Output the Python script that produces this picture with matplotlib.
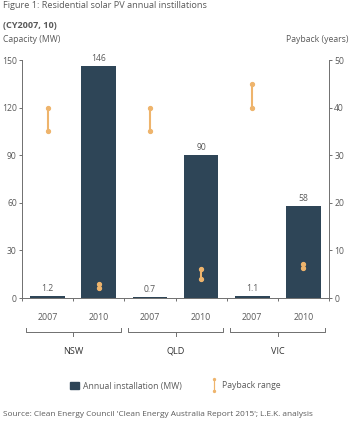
import matplotlib
matplotlib.use("Agg")
import matplotlib.pyplot as plt
from matplotlib.patches import Patch
from matplotlib.lines import Line2D
from matplotlib.path import Path
import numpy as np

# data
states = ["NSW", "QLD", "VIC"]
years = ["2007", "2010"]
capacity = [1.2, 146, 0.7, 90, 1.1, 58]          # MW
capacity_labels = ["1.2", "146", "0.7", "90", "1.1", "58"]
payback_low = [35, 2, 35, 4, 40, 6.2]              # years
payback_high = [40, 3, 40, 6, 45, 7.2]

BAR = "#2e4557"
ORANGE = "#eeb46c"
GREY = "#5a5a5a"
AXC = "#6f6f6f"

plt.rcParams["font.family"] = ["Open Sans", "DejaVu Sans"]
plt.rcParams["font.size"] = 6

fig = plt.figure(figsize=(3.51, 4.21), dpi=100)
ax = fig.add_axes([22/351, 1-298/421, 307/351, 238/421])
ax2 = ax.twinx()

xs = np.arange(len(capacity)) + 0.5
ax.bar(xs, capacity, width=0.68, color=BAR, zorder=2)
for x, v, lab in zip(xs, capacity, capacity_labels):
    ax.text(x, v + 2, lab, ha="center", va="bottom", color=GREY, fontsize=6.2)

# payback ranges on right axis
for x, lo, hi in zip(xs, payback_low, payback_high):
    ax2.plot([x, x], [lo, hi], color=ORANGE, lw=1.5, marker="o", ms=2.8,
             solid_capstyle="round", zorder=3)

ax.set_xlim(0, 6)
ax.set_ylim(0, 150)
ax.set_yticks([0, 30, 60, 90, 120, 150])
ax2.set_ylim(0, 50)
ax2.set_yticks([0, 10, 20, 30, 40, 50])
ax.set_xticks(np.arange(0, 7))
ax.set_xticklabels([])

for a in (ax, ax2):
    a.spines["top"].set_visible(False)
    for s in ["left", "right", "bottom"]:
        a.spines[s].set_color(AXC)
        a.spines[s].set_linewidth(0.7)
    a.tick_params(colors=AXC, labelcolor=GREY, labelsize=6.2, length=2.2,
                  width=0.7, pad=1.5, direction="out")
ax.spines["right"].set_visible(False)
ax2.spines["left"].set_visible(False)
ax2.spines["bottom"].set_visible(False)

# year labels and state brackets
trans = ax.get_xaxis_transform()
for i, x in enumerate(xs):
    ax.text(x, -0.082, years[i % 2], transform=trans, ha="center", va="center",
            color=GREY, fontsize=6.3, clip_on=False)
for g, st in enumerate(states):
    x0, x1 = 2*g + 0.07, 2*g + 1.93
    yb, yt = -0.143, -0.125
    ax.plot([x0, x0, x1, x1], [yt, yb, yb, yt], transform=trans, color=AXC,
            lw=0.7, clip_on=False)
    ax.plot([2*g + 1, 2*g + 1], [yb, yb - 0.015], transform=trans, color=AXC,
            lw=0.7, clip_on=False)
    ax.text(2*g + 1, -0.223, st, transform=trans, ha="center", va="center",
            color="#333333", fontsize=6.6, clip_on=False)

# titles
fig.text(3/351, 1-6/421, "Figure 1: Residential solar PV annual instillations",
         ha="left", va="center", color=GREY, fontsize=6.6)
fig.text(3/351, 1-25/421, "(CY2007, 10)", ha="left", va="center",
         color=GREY, fontsize=6.6, fontweight="bold")
fig.text(3/351, 1-40/421, "Capacity (MW)", ha="left", va="center",
         color=GREY, fontsize=6.2)
fig.text(349/351, 1-40/421, "Payback (years)", ha="right", va="center",
         color=GREY, fontsize=6.2)

# legend
pb_path = Path.make_compound_path(
    Path.circle((0, 1), 0.28),
    Path.circle((0, -1), 0.28),
    Path([(-0.1, -1), (0.1, -1), (0.1, 1), (-0.1, 1), (-0.1, -1)],
         [Path.MOVETO, Path.LINETO, Path.LINETO, Path.LINETO, Path.CLOSEPOLY]))
handles = [Patch(facecolor=BAR, edgecolor=BAR),
           Line2D([], [], linestyle="none", marker=pb_path, markersize=11,
                  markerfacecolor=ORANGE, markeredgewidth=0)]
fig.legend(handles, ["Annual installation (MW)", "Payback range"],
           loc="center", bbox_to_anchor=(0.5, 1-386/421), ncol=2, frameon=False,
           fontsize=6.2, labelcolor=GREY, handlelength=1.0, handleheight=1.0,
           columnspacing=3.3, handletextpad=0.4)

fig.text(3/351, 1-415/421,
         "Source: Clean Energy Council 'Clean Energy Australia Report 2015'; L.E.K. analysis",
         ha="left", va="center", color=GREY, fontsize=5.95)

fig.savefig("out.png", dpi=100)
